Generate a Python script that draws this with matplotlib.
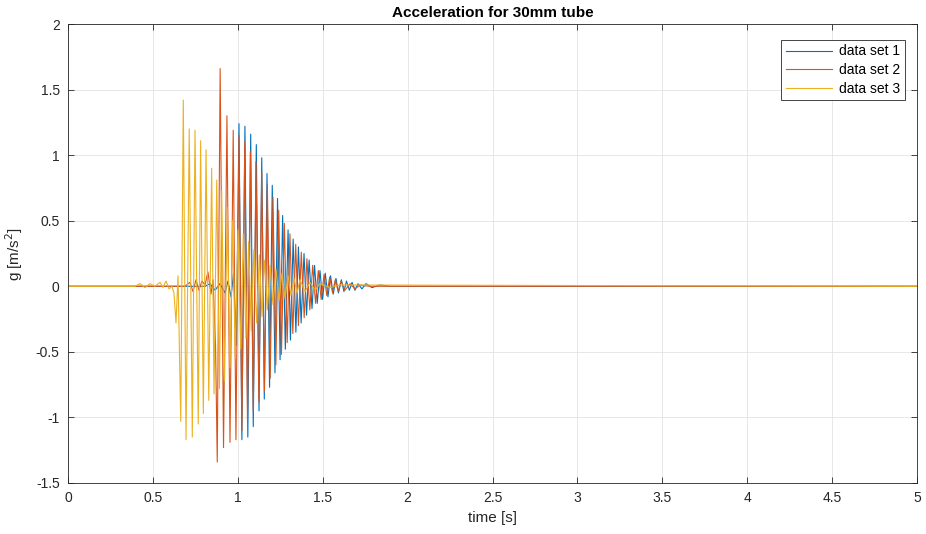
import matplotlib
matplotlib.use("Agg")
import matplotlib.pyplot as plt

plt.rcParams['font.family'] = ['Liberation Sans', 'DejaVu Sans']

title = "Acceleration for 30mm tube"
xlabel = "time [s]"
ylabel = "g [m/s$^2$]"
labels = ["data set 1", "data set 2", "data set 3"]
colors = ["#0072BD", "#D95319", "#EDB120"]

# extrema (time in s, value)
t1 = [0.0, 0.807, 0.836, 0.866, 0.895, 0.925, 0.942, 0.960, 0.975, 0.991,
      1.007, 1.024, 1.042, 1.059, 1.076, 1.091, 1.109, 1.125, 1.141, 1.156,
      1.172, 1.187, 1.203, 1.219, 1.234, 1.249, 1.264, 1.280, 1.296, 1.310,
      1.326, 1.342, 1.357, 1.373, 1.390, 1.405, 1.420, 1.437, 1.452, 1.468,
      1.484, 1.499, 1.515, 1.531, 1.546, 1.562, 1.578, 1.593, 1.610, 1.625,
      1.640, 1.657, 1.673, 1.690, 1.708, 1.731, 1.755, 1.790, 1.837, 1.896, 5.0]
y1 = [0.0, 0.0, 0.02, -0.03, 0.02, -0.05, 0.04, -0.08, 0.10, -0.45,
      1.24, -1.17, 1.22, -1.15, 1.16, -1.07, 1.08, -0.95, 0.98, -0.86,
      0.86, -0.77, 0.77, -0.66, 0.67, -0.56, 0.54, -0.48, 0.43, -0.41,
      0.36, -0.35, 0.30, -0.28, 0.25, -0.22, 0.20, -0.17, 0.16, -0.13,
      0.12, -0.10, 0.10, -0.08, 0.08, -0.06, 0.06, -0.05, 0.05, -0.04,
      0.04, -0.03, 0.03, -0.03, 0.02, -0.02, 0.02, -0.01, 0.01, 0.0, 0.0]

t2 = [0.0, 0.689, 0.718, 0.736, 0.754, 0.771, 0.789, 0.807, 0.824, 0.842,
      0.854, 0.869, 0.879, 0.896, 0.916, 0.936, 0.954, 0.973, 0.989, 1.007,
      1.024, 1.041, 1.057, 1.074, 1.091, 1.107, 1.124, 1.141, 1.157, 1.174,
      1.191, 1.207, 1.224, 1.241, 1.257, 1.274, 1.291, 1.307, 1.324, 1.341,
      1.357, 1.374, 1.391, 1.407, 1.424, 1.441, 1.458, 1.474, 1.491, 1.508,
      1.524, 1.541, 1.558, 1.574, 1.591, 1.608, 1.631, 1.661, 1.690, 1.720,
      1.779, 5.0]
y2 = [0.0, 0.0, 0.03, -0.04, 0.05, -0.03, 0.04, 0.01, 0.11, -0.06,
      0.05, -0.45, -1.34, 1.66, -1.23, 1.30, -1.19, 1.19, -1.17, 1.15,
      -1.10, 1.10, -1.02, 1.03, -0.95, 0.95, -0.88, 0.87, -0.80, 0.78,
      -0.70, 0.68, -0.60, 0.58, -0.52, 0.48, -0.43, 0.40, -0.36, 0.32,
      -0.30, 0.26, -0.24, 0.21, -0.18, 0.16, -0.13, 0.12, -0.10, 0.09,
      -0.07, 0.07, -0.05, 0.05, -0.04, 0.04, -0.03, 0.02, -0.02, 0.01,
      0.0, 0.0]

t3 = [0.0, 0.395, 0.424, 0.453, 0.483, 0.512, 0.542, 0.559, 0.577, 0.595,
      0.612, 0.624, 0.636, 0.648, 0.664, 0.679, 0.695, 0.714, 0.732, 0.748,
      0.767, 0.781, 0.797, 0.813, 0.829, 0.846, 0.860, 0.876, 0.892, 0.905,
      0.922, 0.938, 0.954, 0.970, 0.985, 1.001, 1.017, 1.032, 1.048, 1.064,
      1.079, 1.095, 1.111, 1.127, 1.142, 1.158, 1.174, 1.190, 1.207, 1.225,
      1.243, 1.260, 1.278, 1.296, 1.313, 1.331, 1.349, 1.366, 1.396, 1.425,
      1.455, 1.484, 1.543, 1.602, 5.0]
y3 = [0.0, 0.0, 0.02, -0.01, 0.02, 0.0, 0.03, -0.01, 0.04, -0.02,
      0.0, -0.05, -0.28, 0.08, -1.03, 1.42, -1.17, 1.20, -1.15, 1.19,
      -1.05, 1.11, -0.97, 1.04, -0.87, 0.90, -0.82, 0.81, -0.78, 0.73,
      -0.72, 0.60, -0.62, 0.50, -0.55, 0.43, -0.48, 0.40, -0.40, 0.34,
      -0.34, 0.28, -0.28, 0.24, -0.23, 0.20, -0.18, 0.16, -0.14, 0.13,
      -0.11, 0.10, -0.09, 0.08, -0.07, 0.06, -0.05, 0.05, -0.04, 0.03,
      -0.03, 0.02, -0.01, 0.01, 0.0]

xticks = [0, 0.5, 1, 1.5, 2, 2.5, 3, 3.5, 4, 4.5, 5]
yticks = [-1.5, -1, -0.5, 0, 0.5, 1, 1.5, 2]

fig = plt.figure(figsize=(9.26, 5.34), dpi=100)
ax = fig.add_axes([68/926, 1-483/534, (917-68)/926, (483-24)/534])

for t, y, c, lab in zip([t1, t2, t3], [y1, y2, y3], colors, labels):
    ax.plot(t, y, color=c, lw=0.8, label=lab)

ax.set_xlim(0, 5)
ax.set_ylim(-1.5, 2)
ax.set_xticks(xticks)
ax.set_xticklabels([f"{v:g}" for v in xticks])
ax.set_yticks(yticks)
ax.set_yticklabels([f"{v:g}" for v in yticks])
ax.grid(True, color="#e3e3e3", lw=0.6)
ax.set_axisbelow(True)
for s in ax.spines.values():
    s.set_color("#262626")
    s.set_linewidth(0.6)
ax.tick_params(direction="in", length=4, width=0.6, colors="#262626",
               labelsize=10, top=True, right=True, pad=6)
ax.set_xlabel(xlabel, fontsize=11, color="#262626")
ax.set_ylabel(ylabel, fontsize=11, color="#262626", labelpad=8)
ax.set_title(title, fontsize=11, fontweight="bold", pad=5)

leg = ax.legend(loc="upper right", bbox_to_anchor=(0.9855, 0.966), fontsize=10,
                fancybox=False, framealpha=1, edgecolor="#262626",
                handlelength=3.3, borderpad=0.35, labelspacing=0.33,
                handletextpad=0.5, borderaxespad=0)
leg.get_frame().set_linewidth(0.6)

fig.savefig("out.png", dpi=100)
